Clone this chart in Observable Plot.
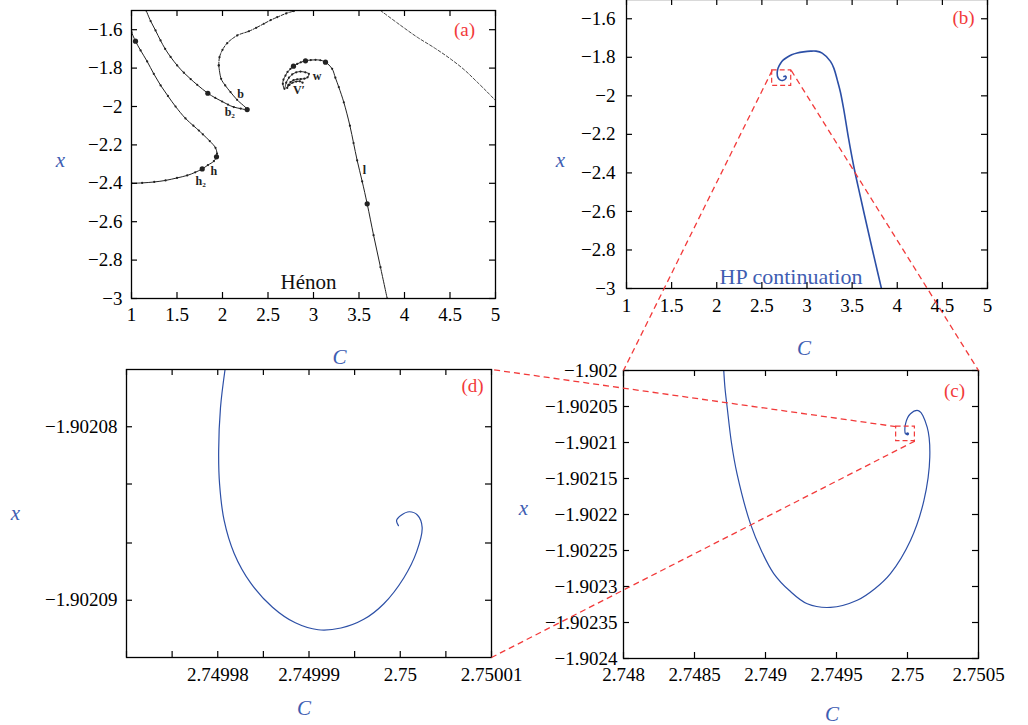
<!DOCTYPE html>
<html><head><meta charset="utf-8">
<script src="https://cdn.jsdelivr.net/npm/d3@7"></script>
<script src="https://cdn.jsdelivr.net/npm/@observablehq/plot@0.6"></script>
<style>
body{margin:0;background:#fff}
#root{position:relative;width:1028px;height:725px;overflow:hidden;background:#fff}
</style></head><body><div id="root"></div>
<script>
const FONT = '"Liberation Serif", "DejaVu Serif", serif';
const RED = "#f23a3a";
const BLUE = "#2c4fa6";
const LBLUE = "#3e5db2";

// ---------- tick values & labels ----------
const ticksWideX = [1, 1.5, 2, 2.5, 3, 3.5, 4, 4.5, 5];
const labelsWideX = ["1", "1.5", "2", "2.5", "3", "3.5", "4", "4.5", "5"];
const ticksWideY = [-1.6, -1.8, -2, -2.2, -2.4, -2.6, -2.8, -3];
const labelsWideY = ["−1.6", "−1.8", "−2", "−2.2", "−2.4", "−2.6", "−2.8", "−3"];

const ticksCX = [2.748, 2.7485, 2.749, 2.7495, 2.75, 2.7505];
const labelsCX = ["2.748", "2.7485", "2.749", "2.7495", "2.75", "2.7505"];
const ticksCY = [-1.902, -1.90205, -1.9021, -1.90215, -1.9022, -1.90225, -1.9023, -1.90235, -1.9024];
const labelsCY = ["−1.902", "−1.90205", "−1.9021", "−1.90215", "−1.9022", "−1.90225", "−1.9023", "−1.90235", "−1.9024"];

const ticksDX = [2.74997, 2.749975, 2.74998, 2.749985, 2.74999, 2.749995, 2.75, 2.750005, 2.75001];
const labelsDX = ["", "", "2.74998", "", "2.74999", "", "2.75", "", "2.75001"];
const ticksDY = [-1.90208, -1.9020833, -1.9020867, -1.90209];
const labelsDY = ["−1.90208", "", "", "−1.90209"];

// ---------- panel (a): Hénon continuation curves [C, x] ----------
const henonH = [[1.0,-1.613],[1.044,-1.66],[1.1,-1.708],[1.172,-1.765],[1.245,-1.83],[1.32,-1.89],[1.4,-1.945],[1.484,-2.0],[1.593,-2.062],[1.68,-2.1],[1.74,-2.125],[1.784,-2.145],[1.86,-2.18],[1.923,-2.215],[1.94,-2.245],[1.934,-2.262],[1.905,-2.285],[1.84,-2.305],[1.777,-2.325],[1.7,-2.343],[1.612,-2.359],[1.5,-2.372],[1.374,-2.385],[1.25,-2.393],[1.117,-2.398],[1.0,-2.4]];
const henonB = [[1.161,-1.5],[1.21,-1.555],[1.264,-1.604],[1.319,-1.656],[1.37,-1.7],[1.43,-1.742],[1.502,-1.786],[1.575,-1.824],[1.65,-1.857],[1.722,-1.887],[1.839,-1.931],[1.92,-1.955],[1.996,-1.974],[2.06,-1.99],[2.124,-2.003],[2.2,-2.011],[2.271,-2.016],[2.16,-1.965],[2.088,-1.925],[2.03,-1.89],[1.985,-1.856],[1.959,-1.786]];
const henonBUpper = [[1.959,-1.786],[1.967,-1.743],[2.0,-1.705],[2.052,-1.67],[2.162,-1.63],[2.29,-1.608],[2.37,-1.59],[2.454,-1.569],[2.53,-1.55],[2.601,-1.535],[2.7,-1.515],[2.784,-1.503]];
const henonRight = [[3.736,-1.5],[3.95,-1.575],[4.14,-1.639],[4.33,-1.695],[4.505,-1.752],[4.66,-1.81],[4.799,-1.873],[4.9,-1.92],[5.0,-1.969]];
const henonL = [[3.81,-3.0],[3.736,-2.837],[3.66,-2.67],[3.59,-2.507],[3.535,-2.39],[3.48,-2.281],[3.44,-2.19],[3.4,-2.1],[3.333,-1.978],[3.278,-1.899],[3.24,-1.85],[3.205,-1.804],[3.132,-1.769],[3.075,-1.759],[3.022,-1.757],[2.97,-1.758],[2.912,-1.762],[2.86,-1.77],[2.821,-1.778],[2.78,-1.79],[2.747,-1.804],[2.715,-1.82],[2.692,-1.839],[2.67,-1.86],[2.663,-1.882],[2.681,-1.908],[2.70,-1.876],[2.73,-1.85],[2.766,-1.833],[2.81,-1.822],[2.857,-1.818],[2.91,-1.822],[2.949,-1.83],[2.935,-1.848],[2.9,-1.855],[2.86,-1.857],[2.821,-1.858],[2.78,-1.863],[2.747,-1.873],[2.722,-1.888],[2.711,-1.903],[2.735,-1.888],[2.77,-1.876],[2.81,-1.87],[2.85,-1.869],[2.88,-1.876]];
const henonBigDots = [[1.044,-1.66],[1.934,-2.262],[1.777,-2.325],[1.839,-1.931],[2.271,-2.016],[3.59,-2.507],[3.132,-1.769],[2.912,-1.762],[2.78,-1.79]];
const henonLabels = [
  {C:2.2, x:-1.937, t:"b"}, {C:2.08, x:-2.031, t:"b₂"}, {C:1.905, x:-2.339, t:"h"},
  {C:1.76, x:-2.391, t:"h₂"}, {C:3.04, x:-1.844, t:"w"}, {C:2.84, x:-1.917, t:"V′"}, {C:3.56, x:-2.333, t:"l"}
];

// ---------- panel (b): HP continuation ----------
const hpWide = [[3.825,-3.0],[3.745,-2.84],[3.667,-2.681],[3.59,-2.52],[3.519,-2.368],[3.46,-2.22],[3.408,-2.073],[3.37,-1.98],[3.335,-1.917],[3.3,-1.86],[3.26,-1.821],[3.168,-1.778],[3.1,-1.768],[3.039,-1.768],[2.96,-1.772],[2.891,-1.778],[2.83,-1.787],[2.78,-1.8],[2.735,-1.815],[2.706,-1.832],[2.68,-1.855],[2.67,-1.878],[2.676,-1.903],[2.7,-1.917],[2.73,-1.92],[2.765,-1.91],[2.762,-1.898],[2.745,-1.9]];
const boxB = {C1: 2.614, C2: 2.825, x1: -1.868, x2: -1.948};

// ---------- panel (c): zoom ----------
const hpMid = [[2.748706,-1.902],[2.748715,-1.902025],[2.74873,-1.902051],[2.74876,-1.9021],[2.7488,-1.902144],[2.748894,-1.902213],[2.748975,-1.902252],[2.749058,-1.902282],[2.74917,-1.902306],[2.749294,-1.902324],[2.749458,-1.902329],[2.749646,-1.902319],[2.74977,-1.902303],[2.74988,-1.902282],[2.750021,-1.902236],[2.750115,-1.902181],[2.750157,-1.90212],[2.750139,-1.902079],[2.75008,-1.902056],[2.750021,-1.90206],[2.749986,-1.902074],[2.749986,-1.902088],[2.75,-1.902088]];
const boxC = {C1: 2.74992, C2: 2.750052, x1: -1.902078, x2: -1.902098};

// ---------- panel (d): deeper zoom ----------
const hpFine = [[2.7499808,-1.9020767],[2.7499803,-1.9020789],[2.7499801,-1.9020814],[2.7499802,-1.9020833],[2.7499807,-1.9020854],[2.7499818,-1.9020873],[2.7499836,-1.902089],[2.749986,-1.9020904],[2.7499885,-1.9020913],[2.749991,-1.9020917],[2.7499935,-1.9020916],[2.749996,-1.9020911],[2.7499982,-1.9020902],[2.7500004,-1.9020887],[2.7500018,-1.9020872],[2.7500024,-1.9020858],[2.7500019,-1.9020851],[2.750001,-1.9020849],[2.7500001,-1.9020851],[2.7499996,-1.9020854],[2.7499998,-1.9020857]];

const root = document.getElementById("root");

function lab(ticks, labels) { return d => { const i = ticks.indexOf(d); return i < 0 ? "" : labels[i]; }; }

function txt(s, o) {
  return Plot.text([s], {text: d => d, textAnchor: "middle", lineAnchor: "middle", fontFamily: FONT, ...o});
}

function panel(cfg) {
  const {left, top, ml, mt, fw, fh, mr, mb, xDomain, yDomain, tx, lx, ty, ly, xPad, yPad, marks} = cfg;
  const p = Plot.plot({
    width: ml + fw + mr, height: mt + fh + mb,
    marginLeft: ml, marginRight: mr, marginTop: mt, marginBottom: mb,
    style: {background: "transparent", fontFamily: FONT, fontSize: "19px", overflow: "visible", color: "black"},
    x: {domain: xDomain}, y: {domain: yDomain},
    marks: [
      Plot.axisX({ticks: tx, tickFormat: lab(tx, lx), tickSize: 0, tickPadding: xPad, fontSize: 19, label: null, fontFamily: FONT}),
      Plot.axisY({ticks: ty, tickFormat: lab(ty, ly), tickSize: 0, tickPadding: yPad, fontSize: 19, label: null, fontFamily: FONT}),
      ...marks,
      Plot.tickX(tx, {x: d => d, insetTop: fh - 6, stroke: "black", strokeWidth: 1.2}),
      Plot.tickX(tx, {x: d => d, insetBottom: fh - 6, stroke: "black", strokeWidth: 1.2}),
      Plot.tickY(ty, {y: d => d, insetRight: fw - 6, stroke: "black", strokeWidth: 1.2}),
      Plot.tickY(ty, {y: d => d, insetLeft: fw - 6, stroke: "black", strokeWidth: 1.2}),
      Plot.frame({stroke: "black", strokeWidth: 1.3})
    ]
  });
  p.style.position = "absolute";
  p.style.left = left + "px";
  p.style.top = top + "px";
  root.appendChild(p);
  const sx = p.scale("x"), sy = p.scale("y");
  const fx = d3.scaleLinear(sx.domain, sx.range), fy = d3.scaleLinear(sy.domain, sy.range);
  return {px: (c) => left + fx(c), py: (v) => top + fy(v)};
}

const line = (data, o) => Plot.line(data, {x: d => d[0], y: d => d[1], curve: "catmull-rom", clip: true, ...o});

// (a)
const A = panel({
  left: 0, top: 0, ml: 131, mt: 10, fw: 364, fh: 288, mr: 20, mb: 45,
  xDomain: [1, 5], yDomain: [-3, -1.5], tx: ticksWideX, lx: labelsWideX, ty: ticksWideY, ly: labelsWideY, xPad: 9, yPad: 9,
  marks: [
    line(henonH, {stroke: "#222", strokeWidth: 1}),
    line(henonB, {stroke: "#222", strokeWidth: 1}),
    line(henonBUpper, {stroke: "#222", strokeWidth: 1, strokeDasharray: "3,1.5"}),
    line(henonRight, {stroke: "#333", strokeWidth: 0.9, strokeDasharray: "3,2"}),
    line(henonL, {stroke: "#222", strokeWidth: 1}),
    Plot.dot([...henonH, ...henonB, ...henonBUpper, ...henonL], {x: d => d[0], y: d => d[1], r: 1.1, fill: "#222", clip: true}),
    Plot.dot(henonBigDots, {x: d => d[0], y: d => d[1], r: 2.6, fill: "#222"}),
    Plot.text(henonLabels, {x: "C", y: "x", text: "t", fontSize: 12, fontWeight: "bold", fontFamily: FONT, fill: "#222"}),
    txt("Hénon", {frameAnchor: "bottom", dx: -5, dy: -16, fontSize: 21, fill: "#111"}),
    txt("(a)", {frameAnchor: "top-right", dx: -31, dy: 19, fontSize: 19, fill: RED}),
    txt("x", {frameAnchor: "left", dx: -71, dy: 6, fontSize: 21, fontStyle: "italic", fill: LBLUE}),
    txt("C", {frameAnchor: "bottom", dx: 26, dy: 59, fontSize: 21, fontStyle: "italic", fill: LBLUE})
  ]
});

// (b)
const B = panel({
  left: 500, top: -20, ml: 126, mt: 19, fw: 361, fh: 289, mr: 30, mb: 80,
  xDomain: [1, 5], yDomain: [-3, -1.5], tx: ticksWideX, lx: labelsWideX, ty: ticksWideY, ly: labelsWideY, xPad: 10, yPad: 11,
  marks: [
    line(hpWide, {stroke: BLUE, strokeWidth: 1.6}),
    Plot.rect([boxB], {x1: "C1", x2: "C2", y1: "x1", y2: "x2", fill: "none", stroke: RED, strokeWidth: 1.2, strokeDasharray: "5,3"}),
    txt("HP continuation", {frameAnchor: "bottom", dx: -16, dy: -12, fontSize: 22, fill: LBLUE}),
    txt("(b)", {frameAnchor: "top-right", dx: -24, dy: 18, fontSize: 19, fill: RED}),
    txt("x", {frameAnchor: "left", dx: -66, dy: 16, fontSize: 21, fontStyle: "italic", fill: LBLUE}),
    txt("C", {frameAnchor: "bottom", dx: -3, dy: 60, fontSize: 21, fontStyle: "italic", fill: LBLUE})
  ]
});

// (c)
const Cp = panel({
  left: 490, top: 340, ml: 133, mt: 30, fw: 355, fh: 288, mr: 40, mb: 80,
  xDomain: [2.748, 2.7505], yDomain: [-1.9024, -1.902], tx: ticksCX, lx: labelsCX, ty: ticksCY, ly: labelsCY, xPad: 9, yPad: 6,
  marks: [
    line(hpMid, {stroke: BLUE, strokeWidth: 1.2}),
    Plot.dot([hpMid[hpMid.length - 1]], {x: d => d[0], y: d => d[1], r: 1.6, fill: BLUE}),
    Plot.rect([boxC], {x1: "C1", x2: "C2", y1: "x1", y2: "x2", fill: "none", stroke: RED, strokeWidth: 1.2, strokeDasharray: "5,3"}),
    txt("(c)", {frameAnchor: "top-right", dx: -24, dy: 20, fontSize: 19, fill: RED}),
    txt("x", {frameAnchor: "left", dx: -100, dy: -6, fontSize: 21, fontStyle: "italic", fill: LBLUE}),
    txt("C", {frameAnchor: "bottom", dx: 31, dy: 56, fontSize: 21, fontStyle: "italic", fill: LBLUE})
  ]
});

// (d)
const D = panel({
  left: 0, top: 340, ml: 126, mt: 29, fw: 365, fh: 288, mr: 20, mb: 80,
  xDomain: [2.74997, 2.75001], yDomain: [-1.9020933, -1.9020767], tx: ticksDX, lx: labelsDX, ty: ticksDY, ly: labelsDY, xPad: 10, yPad: 9,
  marks: [
    line(hpFine, {stroke: BLUE, strokeWidth: 1.2}),
    txt("(d)", {frameAnchor: "top-right", dx: -19, dy: 16, fontSize: 19, fill: RED}),
    txt("x", {frameAnchor: "left", dx: -111, dy: 0, fontSize: 21, fontStyle: "italic", fill: LBLUE}),
    txt("C", {frameAnchor: "bottom", dx: -5, dy: 51, fontSize: 21, fontStyle: "italic", fill: LBLUE})
  ]
});

// zoom connectors, positioned from the panels' own scales
const connectors = [
  {x1: B.px(boxB.C1), y1: B.py(boxB.x1), x2: Cp.px(2.748), y2: Cp.py(-1.902)},
  {x1: B.px(boxB.C2), y1: B.py(boxB.x1), x2: Cp.px(2.7505), y2: Cp.py(-1.902)},
  {x1: Cp.px(boxC.C1), y1: Cp.py(boxC.x1), x2: D.px(2.75001), y2: D.py(-1.9020767)},
  {x1: Cp.px(boxC.C2), y1: Cp.py(boxC.x2), x2: D.px(2.75001), y2: D.py(-1.9020933)}
];
const overlay = Plot.plot({
  width: 1028, height: 725, margin: 0,
  x: {type: "identity", axis: null}, y: {type: "identity", axis: null},
  style: {background: "transparent", overflow: "visible"},
  marks: [Plot.link(connectors, {x1: "x1", y1: "y1", x2: "x2", y2: "y2", stroke: RED, strokeWidth: 1.3, strokeDasharray: "6,4"})]
});
overlay.style.position = "absolute";
overlay.style.left = "0px";
overlay.style.top = "0px";
overlay.style.pointerEvents = "none";
root.appendChild(overlay);
</script></body></html>
